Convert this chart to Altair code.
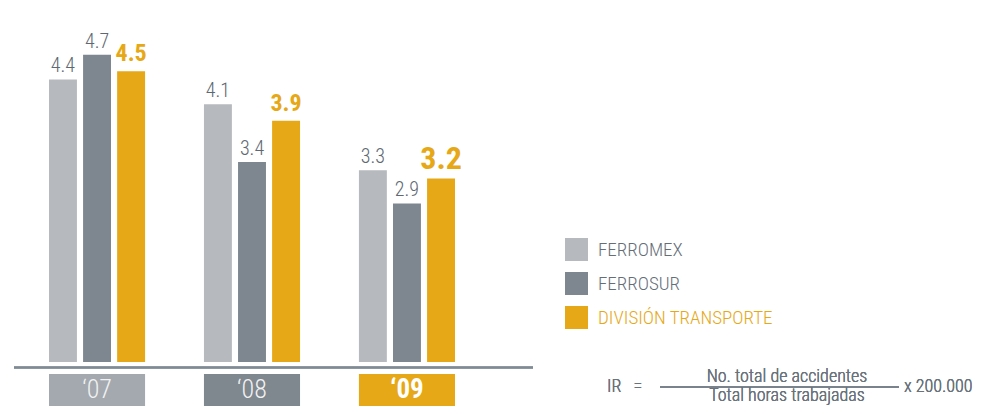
import altair as alt
import pandas as pd

series = ["FERROMEX", "FERROSUR", "DIVISIÓN TRANSPORTE"]
years = ["‘07", "‘08", "‘09"]
ferromex = [4.4, 4.1, 3.3]
ferrosur = [4.7, 3.4, 2.9]
division = [4.5, 3.9, 3.2]

bar_colors = ["#b6babe", "#7e878f", "#e6a817"]
box_colors = ["#a3a9af", "#7f878f", "#e6a817"]
GOLD = "#e6a817"
GREY_TXT = "#5d6872"
LIGHT_TXT = "#69737c"
FONT = "Roboto Condensed, Roboto, sans-serif"

rows = []
for name, vals in zip(series, [ferromex, ferrosur, division]):
    for y, v in zip(years, vals):
        rows.append({"year": y, "series": name, "value": v})
df = pd.DataFrame(rows)
years_df = pd.DataFrame({"year": years})

Y0 = 0.98
xscale = alt.Scale(domain=years, range=[41, 447], paddingInner=0.38, paddingOuter=0)
xoff = alt.Scale(domain=series, paddingInner=0.18, paddingOuter=0)
yscale = alt.Scale(domain=[Y0, 5.265], range=[354, 0], zero=False, nice=False)

X = alt.X("year:N", scale=xscale, axis=None, sort=years)
XO = alt.XOffset("series:N", scale=xoff, sort=series)
Y = alt.Y("value:Q", scale=yscale, axis=None)

base = alt.Chart(df)

bars = base.mark_bar().encode(
    x=X, xOffset=XO, y=Y, y2=alt.datum(Y0),
    color=alt.Color(
        "series:N",
        scale=alt.Scale(domain=series, range=bar_colors),
        sort=series,
        legend=alt.Legend(
            title=None, orient="none", legendX=557, legendY=230,
            symbolType="square", symbolSize=529, symbolStrokeWidth=0, symbolOpacity=1,
            labelFont=FONT, labelFontSize=19, labelFontWeight=300, labelOffset=10,
            labelColor=alt.expr(f"datum.label == 'DIVISIÓN TRANSPORTE' ? '{GOLD}' : '#646e78'"),
            rowPadding=11, padding=0, labelLimit=400,
        ),
    ),
)

grey_labels = base.transform_filter(
    alt.datum.series != "DIVISIÓN TRANSPORTE"
).mark_text(
    dy=-7, baseline="alphabetic", fontSize=20, fontWeight=300, color=GREY_TXT, font=FONT
).encode(x=X, xOffset=XO, y=Y, text=alt.Text("value:Q", format=".1f"))

gold_small = base.transform_filter(
    (alt.datum.series == "DIVISIÓN TRANSPORTE") & (alt.datum.year != "‘09")
).mark_text(
    dy=-10, baseline="alphabetic", color=GOLD, font=FONT, fontWeight="bold", fontSize=24
).encode(x=X, xOffset=XO, y=Y, text=alt.Text("value:Q", format=".1f"))

gold_big = base.transform_filter(
    (alt.datum.series == "DIVISIÓN TRANSPORTE") & (alt.datum.year == "‘09")
).mark_text(
    dy=-10, baseline="alphabetic", color=GOLD, font=FONT, fontWeight="bold", fontSize=32
).encode(x=X, xOffset=XO, y=Y, text=alt.Text("value:Q", format=".1f"))

boxes = alt.Chart(years_df).mark_rect().encode(
    x=X, y=alt.value(366), y2=alt.value(430),
    fill=alt.Fill("year:N", scale=alt.Scale(domain=years, range=box_colors), legend=None),
)

year_txt = alt.Chart(years_df).transform_filter(alt.datum.year != "‘09").mark_text(
    baseline="alphabetic", fontSize=26, fontWeight=300, color="#f2f2f2", font=FONT
).encode(x=X, y=alt.value(390), text="year:N")

year_txt_b = alt.Chart(years_df).transform_filter(alt.datum.year == "‘09").mark_text(
    baseline="alphabetic", fontSize=27, color="#ffffff", font=FONT, fontWeight="bold"
).encode(x=X, y=alt.value(390), text="year:N")

axis_line = alt.Chart(years_df).mark_rule(color="#7f8a94", strokeWidth=2).encode(
    x=alt.value(6), x2=alt.value(525), y=alt.value(359.5)
)

ftxt = dict(font=FONT, fontSize=18, fontWeight=300, color=LIGHT_TXT, baseline="alphabetic")
ir = alt.Chart(years_df).mark_text(align="left", text="IR\u00a0\u00a0\u00a0=", **ftxt).encode(
    x=alt.value(599), y=alt.value(384))
num = alt.Chart(years_df).mark_text(align="center", text="No. total de accidentes", **ftxt).encode(
    x=alt.value(779), y=alt.value(374))
den = alt.Chart(years_df).mark_text(align="center", text="Total horas trabajadas", **ftxt).encode(
    x=alt.value(779), y=alt.value(393))
mult = alt.Chart(years_df).mark_text(align="left", text="x 200.000", **ftxt).encode(
    x=alt.value(896), y=alt.value(384))
frac = alt.Chart(years_df).mark_rule(color=LIGHT_TXT, strokeWidth=1.2).encode(
    x=alt.value(652), x2=alt.value(891), y=alt.value(379))

chart = alt.layer(
    boxes, bars, grey_labels, gold_small, gold_big, year_txt, year_txt_b, axis_line,
    ir, num, den, mult, frac,
).properties(
    width=967, height=398, autosize=alt.AutoSizeParams(type="none"), padding=0,
).configure_view(stroke=None)

chart.save("out.html", embed_options={"renderer": "svg", "actions": False})
